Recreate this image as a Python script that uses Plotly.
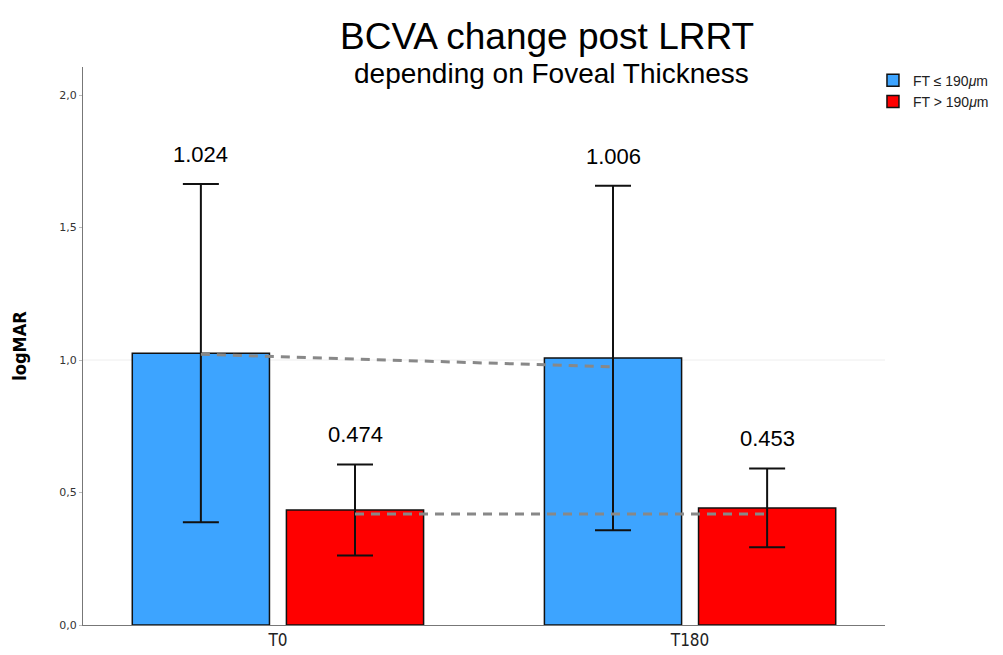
import plotly.graph_objects as go

categories = ["T0", "T180"]
series_names = ["FT ≤ 190<i>μ</i>m", "FT > 190<i>μ</i>m"]
means_low = [1.026, 1.008]      # FT <= 190
means_high = [0.434, 0.442]     # FT > 190
err_low = [0.638, 0.650]
err_high = [0.172, 0.149]
labels_low = ["1.024", "1.006"]
labels_high = ["0.474", "0.453"]
trend_low = [1.022, 0.974]
trend_high = [0.419, 0.419]

BLUE = "#3DA4FF"
RED = "#FF0000"

xs = [0, 1]
bargap = 0.252
bargroupgap = 0.11
slot = (1 - bargap) / 2
off_low = -slot / 2
off_high = slot / 2

fig = go.Figure()
fig.add_trace(go.Bar(
    x=xs, y=means_low, name=series_names[0],
    marker=dict(color=BLUE, line=dict(color="#111111", width=1.5)),
    error_y=dict(type="data", array=err_low, color="#111111", thickness=2, width=18),
))
fig.add_trace(go.Bar(
    x=xs, y=means_high, name=series_names[1],
    marker=dict(color=RED, line=dict(color="#111111", width=1.5)),
    error_y=dict(type="data", array=err_high, color="#111111", thickness=2, width=18),
))
fig.add_trace(go.Scatter(
    x=[x + off_low for x in xs], y=trend_low, mode="lines",
    line=dict(color="#888888", width=3, dash="9px,7px"), showlegend=False, hoverinfo="skip"))
fig.add_trace(go.Scatter(
    x=[x + off_high for x in xs], y=trend_high, mode="lines",
    line=dict(color="#888888", width=3, dash="9px,7px"), showlegend=False, hoverinfo="skip"))

# reference line at 1.0
fig.add_shape(type="line", xref="paper", yref="y", x0=0, x1=1, y0=1.0, y1=1.0,
              line=dict(color="#EEEEEE", width=1), layer="below")

for i, x in enumerate(xs):
    fig.add_annotation(x=x + off_low, y=means_low[i] + err_low[i], text=labels_low[i],
                       showarrow=False, yanchor="bottom", yshift=15,
                       font=dict(family="Liberation Sans, Arial", size=22, color="#000000"))
    fig.add_annotation(x=x + off_high, y=means_high[i] + err_high[i], text=labels_high[i],
                       showarrow=False, yanchor="bottom", yshift=15,
                       font=dict(family="Liberation Sans, Arial", size=22, color="#000000"))

fig.add_annotation(xref="paper", yref="paper", x=0.5786, y=1.0, yshift=31, text="BCVA change post LRRT",
                   showarrow=False, yanchor="middle",
                   font=dict(family="Liberation Sans, Arial", size=37, color="#000000"))
fig.add_annotation(xref="paper", yref="paper", x=0.5836, y=1.0, yshift=-6, text="depending on Foveal Thickness",
                   showarrow=False, yanchor="middle",
                   font=dict(family="Liberation Sans, Arial", size=28, color="#000000"))

# page body has an 8px margin: figure is drawn from (8, 8)
fig.update_layout(
    width=995, height=647,
    margin=dict(l=75, r=118, t=59, b=30, autoexpand=False),
    paper_bgcolor="white", plot_bgcolor="white",
    barmode="group", bargap=bargap, bargroupgap=bargroupgap,
    separators=",.",
    showlegend=True,
    legend=dict(x=0.985, y=1.004, xanchor="left", yanchor="top",
                font=dict(family="Liberation Sans, Arial", size=14, color="#222222"),
                tracegroupgap=0, itemwidth=30, bgcolor="rgba(0,0,0,0)"),
    xaxis=dict(range=[-0.473, 1.473], tickvals=xs, ticktext=categories, automargin=False,
               showline=True, linecolor="#777777", linewidth=1, showgrid=False, zeroline=False,
               ticks="", tickfont=dict(family="DejaVu Sans Condensed, DejaVu Sans", size=17, color="#222222")),
    yaxis=dict(range=[0, 2.106], tickvals=[0, 0.5, 1.0, 1.5, 2.0], tickformat=".1f", automargin=False,
               showline=True, linecolor="#777777", linewidth=1, showgrid=False, zeroline=False,
               ticks="outside", ticklen=3, tickcolor="#bbbbbb",
               tickfont=dict(family="DejaVu Sans", size=11, color="#333333"),
               title=dict(text="<b>logMAR</b>", standoff=27,
                          font=dict(family="DejaVu Sans Condensed, DejaVu Sans", size=18, color="#000000"))),
)

fig.write_html("out.html")
